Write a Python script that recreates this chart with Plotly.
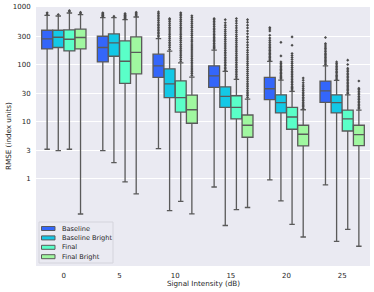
import plotly.graph_objects as go

categories = ["0", "5", "10", "15", "20", "25"]
series = ["Baseline", "Baseline Bright", "Final", "Final Bright"]
colors = ["#3466FA", "#14C8E6", "#5AFFC8", "#A0F7A0"]

# per series: values per category
q1 = {
    "Baseline":        [184, 109, 58.3, 39.0, 23.7, 21.3],
    "Baseline Bright": [195, 137, 25.7, 17.4, 13.9, 13.9],
    "Final":           [170, 45.8, 14.4, 10.9, 7.19, 6.71],
    "Final Bright":    [184, 67.4, 9.16, 5.21, 3.67, 3.72],
}
median = {
    "Baseline":        [276, 195, 93, 62.2, 36.9, 34.0],
    "Baseline Bright": [295, 235, 45.1, 27.1, 21.0, 21.0],
    "Final":           [272, 112, 25.7, 17.4, 11.8, 10.9],
    "Final Bright":    [292, 160, 15.8, 8.45, 5.88, 5.78],
}
q3 = {
    "Baseline":        [391, 307, 149, 93, 58.3, 50.2],
    "Baseline Bright": [391, 337, 82.4, 39.9, 28.9, 28.9],
    "Final":           [396, 254, 50.9, 27.8, 17.4, 15.6],
    "Final Bright":    [408, 299, 28.6, 12.8, 8.45, 8.45],
}
lower_whisker = {
    "Baseline":        [3.21, 3.04, 3.29, 0.70, 0.93, 0.76],
    "Baseline Bright": [3.04, 1.87, 0.27, 0.148, 0.40, 0.078],
    "Final":           [3.21, 0.86, 0.39, 0.28, 0.155, 0.126],
    "Final Bright":    [0.235, 0.53, 0.237, 0.306, 0.093, 0.064],
}
upper_whisker = {
    "Baseline":        [716, 653, 280, 175, 111, 93],
    "Baseline Bright": [696, 653, 168, 74.2, 52.3, 51.7],
    "Final":           [785, 602, 105, 53.8, 33.2, 28.9],
    "Final Bright":    [736, 668, 59, 24.3, 15.8, 15.6],
}
outliers = {
    "Baseline": [
        [750, 790],
        [680, 700, 720, 740, 770, 790],
        [300, 320, 340, 360, 385, 410, 440, 470, 500, 540, 580, 620, 670, 720, 770, 820],
        [185, 195, 205, 215, 230, 245, 260, 275, 290, 310, 330, 350, 375, 400, 425, 455, 490, 525, 560, 600, 630],
        [117, 123, 130, 137, 145, 153, 162, 172, 183, 195, 208, 222, 240, 260, 285, 320, 380, 410, 436],
        [98, 104, 110, 116, 123, 130, 138, 146, 155, 165, 176, 188, 200, 215, 229, 292],
    ],
    "Baseline Bright": [
        [740],
        [690],
        [180, 195, 210, 225, 240, 260, 280, 300, 325, 350, 380, 410, 440, 480, 520, 560, 600, 630],
        [78, 83, 88, 94, 100, 107, 114, 122, 130, 140, 150, 160, 172, 185, 200, 215, 232, 250, 270, 290, 315, 340, 370, 400, 440, 480, 530, 600],
        [55, 58, 61, 64, 68, 72, 76, 80, 85, 90, 96, 102, 109, 139, 240],
        [54, 57, 60, 63, 67, 71, 75, 80, 85, 90, 96, 102, 109],
    ],
    "Final": [
        [830, 870],
        [620, 640, 660, 680, 700, 720, 745, 770],
        [112, 120, 130, 140, 150, 162, 175, 190, 205, 220, 240, 260, 280, 300, 325, 350, 380, 410, 440, 480, 520, 560, 600, 650, 700, 750, 790],
        [57, 61, 65, 70, 75, 80, 86, 92, 99, 106, 114, 122, 131, 141, 152, 164, 177, 191, 206, 222, 240, 260, 280, 305, 330, 360, 390, 430, 470, 520, 570, 627],
        [35, 37, 39, 41, 44, 47, 50, 53, 57, 61, 65, 70, 75, 81, 87, 94, 102, 110, 120, 130, 141, 153, 214, 299],
        [30.5, 32, 34, 36, 38, 40, 42.5, 45, 48, 51, 54, 57.5, 61, 65, 69, 74, 79, 84, 98, 117],
    ],
    "Final Bright": [
        [780, 810],
        [700, 740, 780, 810],
        [63, 68, 73, 79, 85, 92, 100, 108, 117, 127, 138, 150, 163, 177, 192, 208, 225, 245, 265, 290, 315, 340, 370, 400, 435, 470, 510, 550, 600, 650, 700],
        [26, 28, 30, 32, 34, 37, 40, 43, 46, 50, 54, 58, 63, 68, 74, 80, 87, 95, 103, 112, 122, 133, 145, 160, 175, 195, 215, 240, 270, 300, 340, 380, 430, 480, 540, 600],
        [16.8, 17.8, 19, 20, 21.5, 23, 24.5, 26, 28, 30, 32, 34.5, 37, 40, 43, 47, 52, 57],
        [16.5, 17.5, 18.5, 19.7, 21, 22.3, 23.8, 25.3, 27, 29, 31, 33.5, 36, 37.5, 50.5],
    ],
}

y_tick_vals = [1, 3, 10, 30, 100, 300, 1000]
y_tick_text = ["1", "3", "10", "30", "100", "300", "1000"]
x_title = "Signal Intensity (dB)"
y_title = "RMSE (index units)"

FONT = "DejaVu Sans"
TXT = "#262626"
EDGE = "#5a5a5a"
BOX_W = 0.2
n_s = len(series)

# figure geometry (pixels)
W, H = 374, 292
ML, MR, MT, MB = 36, 4, 7, 26
PW, PH = W - ML - MR, H - MT - MB


def px_x(px):
    return (px - ML) / PW


def px_y(py):
    return (H - MB - py) / PH


fig = go.Figure()
for i, (name, col) in enumerate(zip(series, colors)):
    off = (i - (n_s - 1) / 2) * BOX_W
    xs = [k + off for k in range(len(categories))]
    fig.add_trace(go.Box(
        name=name,
        x=xs,
        q1=q1[name], median=median[name], q3=q3[name],
        lowerfence=lower_whisker[name], upperfence=upper_whisker[name],
        width=BOX_W * 0.98,
        fillcolor=col,
        line=dict(color=EDGE, width=1.3),
        whiskerwidth=0.5,
        boxpoints=False,
        hoverinfo="skip",
        showlegend=False,
    ))
    ox, oy = [], []
    for k, vals in enumerate(outliers[name]):
        ox += [k + off] * len(vals)
        oy += vals
    fig.add_trace(go.Scatter(
        x=ox, y=oy, mode="markers", showlegend=False,
        marker=dict(symbol="diamond", size=2.4, color="#4a4a4a", line=dict(width=0)),
        hoverinfo="skip",
    ))

# manual legend (compact, like matplotlib)
shapes = [dict(
    type="rect", xref="paper", yref="paper",
    x0=px_x(39), x1=px_x(113), y0=px_y(263), y1=px_y(222),
    fillcolor="rgba(234,234,242,0.9)", line=dict(color="#d4d4dc", width=1),
)]
annotations = []
for i, (name, col) in enumerate(zip(series, colors)):
    cy = 228.5 + i * 9.4
    shapes.append(dict(
        type="rect", xref="paper", yref="paper",
        x0=px_x(41.5), x1=px_x(55), y0=px_y(cy + 2), y1=px_y(cy - 2),
        fillcolor=col, line=dict(color=EDGE, width=1),
    ))
    annotations.append(dict(
        xref="paper", yref="paper", x=px_x(60), y=px_y(cy),
        text=name, showarrow=False, xanchor="left", yanchor="middle",
        font=dict(size=6.6, family=FONT, color=TXT),
    ))

annotations.append(dict(
    xref="paper", yref="paper", x=px_x((ML + W - MR) / 2), y=px_y(283),
    text=x_title, showarrow=False, xanchor="center", yanchor="middle",
    font=dict(size=7.2, family=FONT, color=TXT),
))
annotations.append(dict(
    xref="paper", yref="paper", x=px_x(8), y=px_y(136),
    text=y_title, showarrow=False, xanchor="center", yanchor="middle", textangle=-90,
    font=dict(size=7.2, family=FONT, color=TXT),
))

fig.update_layout(
    width=W, height=H,
    margin=dict(l=ML, r=MR, t=MT, b=MB, autoexpand=False),
    paper_bgcolor="white",
    plot_bgcolor="#EAEAF2",
    boxmode="overlay",
    font=dict(family=FONT, size=7, color=TXT),
    showlegend=False,
    shapes=shapes,
    annotations=annotations,
)
fig.update_xaxes(
    range=[-0.5, 5.5], automargin=False,
    tickvals=list(range(len(categories))), ticktext=categories,
    showgrid=False, zeroline=False,
    ticks="outside", ticklen=3, tickcolor="rgba(0,0,0,0)",
    tickfont=dict(size=7, family=FONT, color=TXT),
)
fig.update_yaxes(
    type="log", range=[-1.54, 3.0], automargin=False,
    tickvals=y_tick_vals, ticktext=y_tick_text,
    showgrid=True, gridcolor="white", gridwidth=1, zeroline=False,
    ticks="outside", ticklen=3, tickcolor="rgba(0,0,0,0)",
    tickfont=dict(size=7, family=FONT, color=TXT),
)

fig.write_html(
    "out.html",
    config={"displayModeBar": False},
    post_script="document.body.style.margin='0';document.body.style.overflow='hidden';",
)
